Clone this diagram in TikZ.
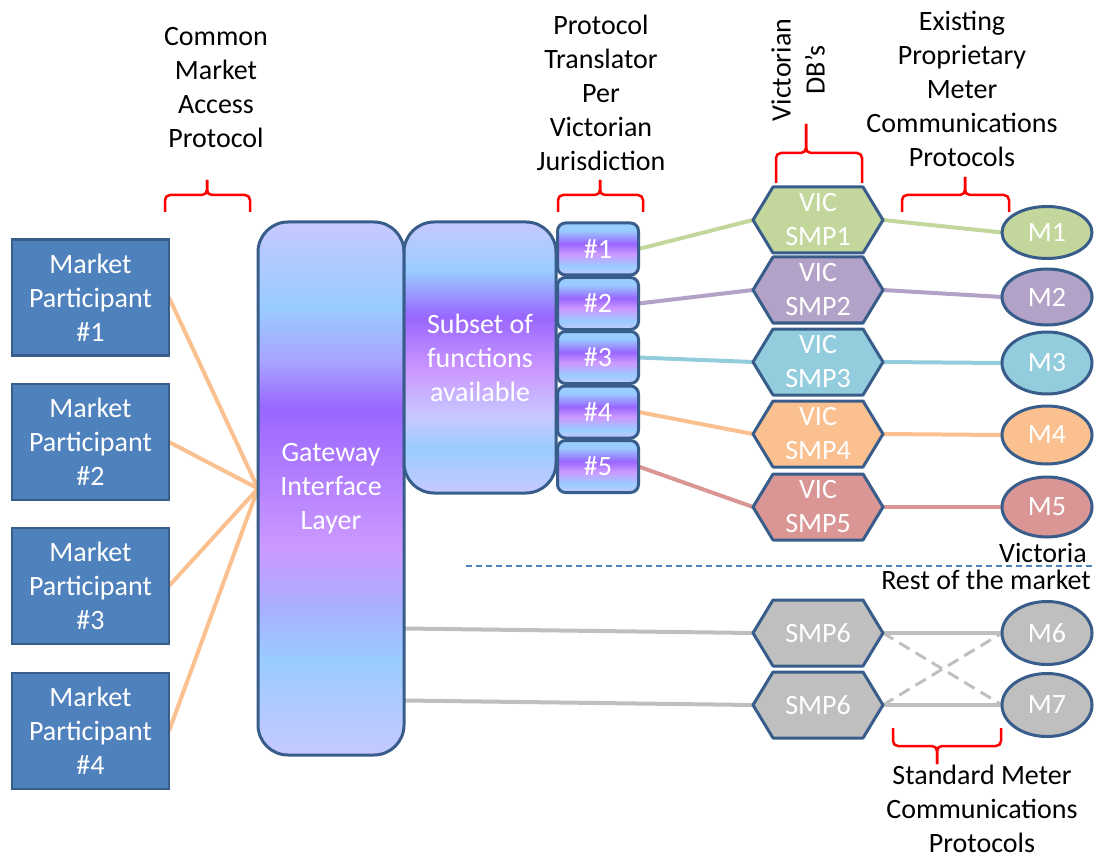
\documentclass[tikz,border=0pt]{standalone}
\usepackage{fontspec}
\setmainfont{Carlito}
\usetikzlibrary{shapes.geometric}

\definecolor{bord}{HTML}{385D8A}
\definecolor{mpblue}{HTML}{4F81BD}
\definecolor{lav}{HTML}{C6C9FF}
\definecolor{lblue}{HTML}{99CCFF}
\definecolor{lavblue}{HTML}{AAAEFF}
\definecolor{midlav}{HTML}{A8A4FF}
\definecolor{purp}{HTML}{9966FF}
\definecolor{lpurp}{HTML}{CC99FF}
\definecolor{cgreen}{HTML}{C3D69B}
\definecolor{cpurple}{HTML}{B3A2C7}
\definecolor{cteal}{HTML}{93CDDD}
\definecolor{corange}{HTML}{FAC090}
\definecolor{cred}{HTML}{D99694}
\definecolor{cgray}{HTML}{BFBFBF}
\definecolor{bracered}{HTML}{FF0000}

% vertical colour ramps (the path spans 25bp..75bp, top at 75bp)
\pgfdeclareverticalshading{gwshade}{100bp}{%
  color(0bp)=(lav); color(25bp)=(lav); color(34bp)=(lblue);
  color(39bp)=(lavblue); color(44.5bp)=(lpurp); color(57.5bp)=(purp);
  color(62bp)=(midlav); color(67bp)=(lblue); color(75bp)=(lav); color(100bp)=(lav)}
\pgfdeclareverticalshading{subshade}{100bp}{%
  color(0bp)=(lav); color(25bp)=(lav); color(33bp)=(lblue);
  color(39bp)=(lav); color(47.5bp)=(lpurp); color(57.5bp)=(purp);
  color(66bp)=(lblue); color(75bp)=(lav); color(100bp)=(lav)}
\pgfdeclareverticalshading{hashshade}{100bp}{%
  color(0bp)=(lav); color(25bp)=(lav); color(33bp)=(lblue);
  color(45bp)=(lpurp); color(55bp)=(purp); color(68bp)=(lblue);
  color(75bp)=(lblue); color(100bp)=(lblue)}

\pgfdeclarelayer{background}
\pgfsetlayers{background,main}

% hexagonal SMP box: name, x, y, fill, text
\newcommand\hexbox[5]{%
  \filldraw[hexline,fill=#4] ({#2-65},#3) -- ({#2-45},{#3-33}) -- ({#2+45},{#3-33})
    -- ({#2+65},#3) -- ({#2+45},{#3+33}) -- ({#2-45},{#3+33}) -- cycle;
  \node[hextext] (#1) at (#2,#3) {#5};}

\tikzset{
  mpbox/.style={draw=bord, line width=2.5pt, fill=mpblue, minimum width=157pt,
    minimum height=116pt, text=white, align=center, inner sep=0pt, outer sep=0pt},
  tallbox/.style={draw=bord, line width=3pt, rounded corners=30pt, text=white,
    align=center, inner sep=0pt, outer sep=0pt},
  hashbox/.style={draw=bord, line width=3pt, rounded corners=8pt, shading=hashshade,
    minimum width=81pt, minimum height=52pt, text=white, inner sep=0pt, outer sep=0pt},
  hexline/.style={draw=bord, line width=3pt, line join=round},
  hextext/.style={minimum width=130pt, minimum height=66pt, inner sep=0pt,
    outer sep=0pt, text=white, align=center},
  meter/.style={ellipse, draw=bord, line width=3pt, minimum width=90pt,
    minimum height=60pt, inner sep=0pt, outer sep=0pt, text=white},
  label/.style={align=center, text=black, inner sep=0pt},
  conn/.style={line width=4pt},
  brace/.style={draw=bracered, line width=2.5pt, rounded corners=5pt},
}

\begin{document}
\begin{tikzpicture}[x=1pt, y=-1pt, font=\fontsize{28}{34}\selectfont]
\useasboundingbox (0,0) rectangle (1094,858);

% market participants
\node[mpbox] (mp1) at (90.5,297.5) {Market\\Participant\\\#1};
\node[mpbox] (mp2) at (90.5,442) {Market\\Participant\\\#2};
\node[mpbox] (mp3) at (90.5,586) {Market\\Participant\\\#3};
\node[mpbox] (mp4) at (90.5,731) {Market\\Participant\\\#4};

% gateway and subset blocks
\node[tallbox, shading=gwshade, minimum width=146pt, minimum height=533pt]
  (gw) at (331,488.5) {Gateway\\Interface\\Layer};
\node[tallbox, shading=subshade, minimum width=152pt, minimum height=271pt]
  (sub) at (480,357.5) {Subset of\\functions\\available};

% protocol translators
\node[hashbox] (h1) at (598,249) {\#1};
\node[hashbox] (h2) at (598,303.5) {\#2};
\node[hashbox] (h3) at (598,357.5) {\#3};
\node[hashbox] (h4) at (598,412) {\#4};
\node[hashbox] (h5) at (598,466.5) {\#5};

% SMPs
\hexbox{s1}{818}{220}{cgreen}{VIC\\SMP1}
\hexbox{s2}{818}{290}{cpurple}{VIC\\SMP2}
\hexbox{s3}{818}{362}{cteal}{VIC\\SMP3}
\hexbox{s4}{818}{434}{corange}{VIC\\SMP4}
\hexbox{s5}{818}{507}{cred}{VIC\\SMP5}
\hexbox{s6}{818}{633}{cgray}{SMP6}
\hexbox{s6b}{818}{705}{cgray}{SMP6}

% meters
\node[meter, fill=cgreen, minimum height=52pt] (m1) at (1047,232.5) {M1};
\node[meter, fill=cpurple, minimum height=56pt] (m2) at (1047,297) {M2};
\node[meter, fill=cteal, minimum height=62pt] (m3) at (1047,363) {M3};
\node[meter, fill=corange, minimum height=58pt] (m4) at (1047,435) {M4};
\node[meter, fill=cred] (m5) at (1047,507) {M5};
\node[meter, fill=cgray, minimum height=63pt] (m6) at (1047,633) {M6};
\node[meter, fill=cgray, minimum height=63pt] (m7) at (1047,705) {M7};

\coordinate (gwA) at ([yshift=-140pt]gw.east);
\coordinate (gwB) at ([yshift=-212pt]gw.east);

\begin{pgfonlayer}{background}
  \foreach \i in {1,...,4} \draw[conn, corange] (mp\i.east) -- (gw.west);
  \draw[conn, cgreen] (h1.east) -- (s1.west);
  \draw[conn, cpurple] (h2.east) -- (s2.west);
  \draw[conn, cteal] (h3.east) -- (s3.west);
  \draw[conn, corange] (h4.east) -- (s4.west);
  \draw[conn, cred] (h5.east) -- (s5.west);
  \draw[conn, cgreen] (s1.east) -- (m1.west);
  \draw[conn, cpurple] (s2.east) -- (m2.west);
  \draw[conn, cteal] (s3.east) -- (m3.west);
  \draw[conn, corange] (s4.east) -- (m4.west);
  \draw[conn, cred] (s5.east) -- (m5.west);
  \draw[conn, cgray] (gwA) -- (s6.west);
  \draw[conn, cgray] (gwB) -- (s6b.west);
  \draw[conn, cgray] (s6.east) -- (m6.west);
  \draw[conn, cgray] (s6b.east) -- (m7.west);
  \draw[cgray, line width=3pt, dash pattern=on 12pt off 7pt] (s6.east) -- (m7.west);
  \draw[cgray, line width=3pt, dash pattern=on 12pt off 7pt] (s6b.east) -- (m6.west);
\end{pgfonlayer}

% Victoria / rest of market divider
\draw[mpblue, line width=1.5pt, dash pattern=on 6pt off 4pt] (466,566) -- (1094,566);
\node[label] (vic) at (1043,553) {Victoria};
\node[label] (rest) at (986,580) {Rest of the market};

% headings
\node[label] (tcm) at (216,88) {Common\\Market\\Access\\Protocol};
\node[label] (tpt) at (601,93) {Protocol\\Translator\\Per\\Victorian\\Jurisdiction};
\node[label, rotate=90] (tvd) at (798,70) {Victorian\\DB’s};
\node[label] (tep) at (962,89) {Existing\\Proprietary\\Meter\\Communications\\Protocols};
\node[label] (tsm) at (982,809) {Standard Meter\\Communications\\Protocols};

% braces
\draw[brace] (165,212) -- (165,195) -- (207,195) -- (207,180);
\draw[brace] (250,212) -- (250,195) -- (207,195) -- (207,180);
\draw[brace] (558,212) -- (558,195) -- (600,195) -- (600,180);
\draw[brace] (643,212) -- (643,195) -- (600,195) -- (600,180);
\draw[brace] (776,183) -- (776,153) -- (806,153) -- (806,124);
\draw[brace] (862,183) -- (862,153) -- (806,153) -- (806,124);
\draw[brace] (902,212) -- (902,195) -- (965,195) -- (965,177);
\draw[brace] (1009,212) -- (1009,195) -- (965,195) -- (965,177);
\draw[brace] (893,728) -- (893,746) -- (937,746) -- (937,764);
\draw[brace] (1001,728) -- (1001,746) -- (937,746) -- (937,764);

\end{tikzpicture}
\end{document}
